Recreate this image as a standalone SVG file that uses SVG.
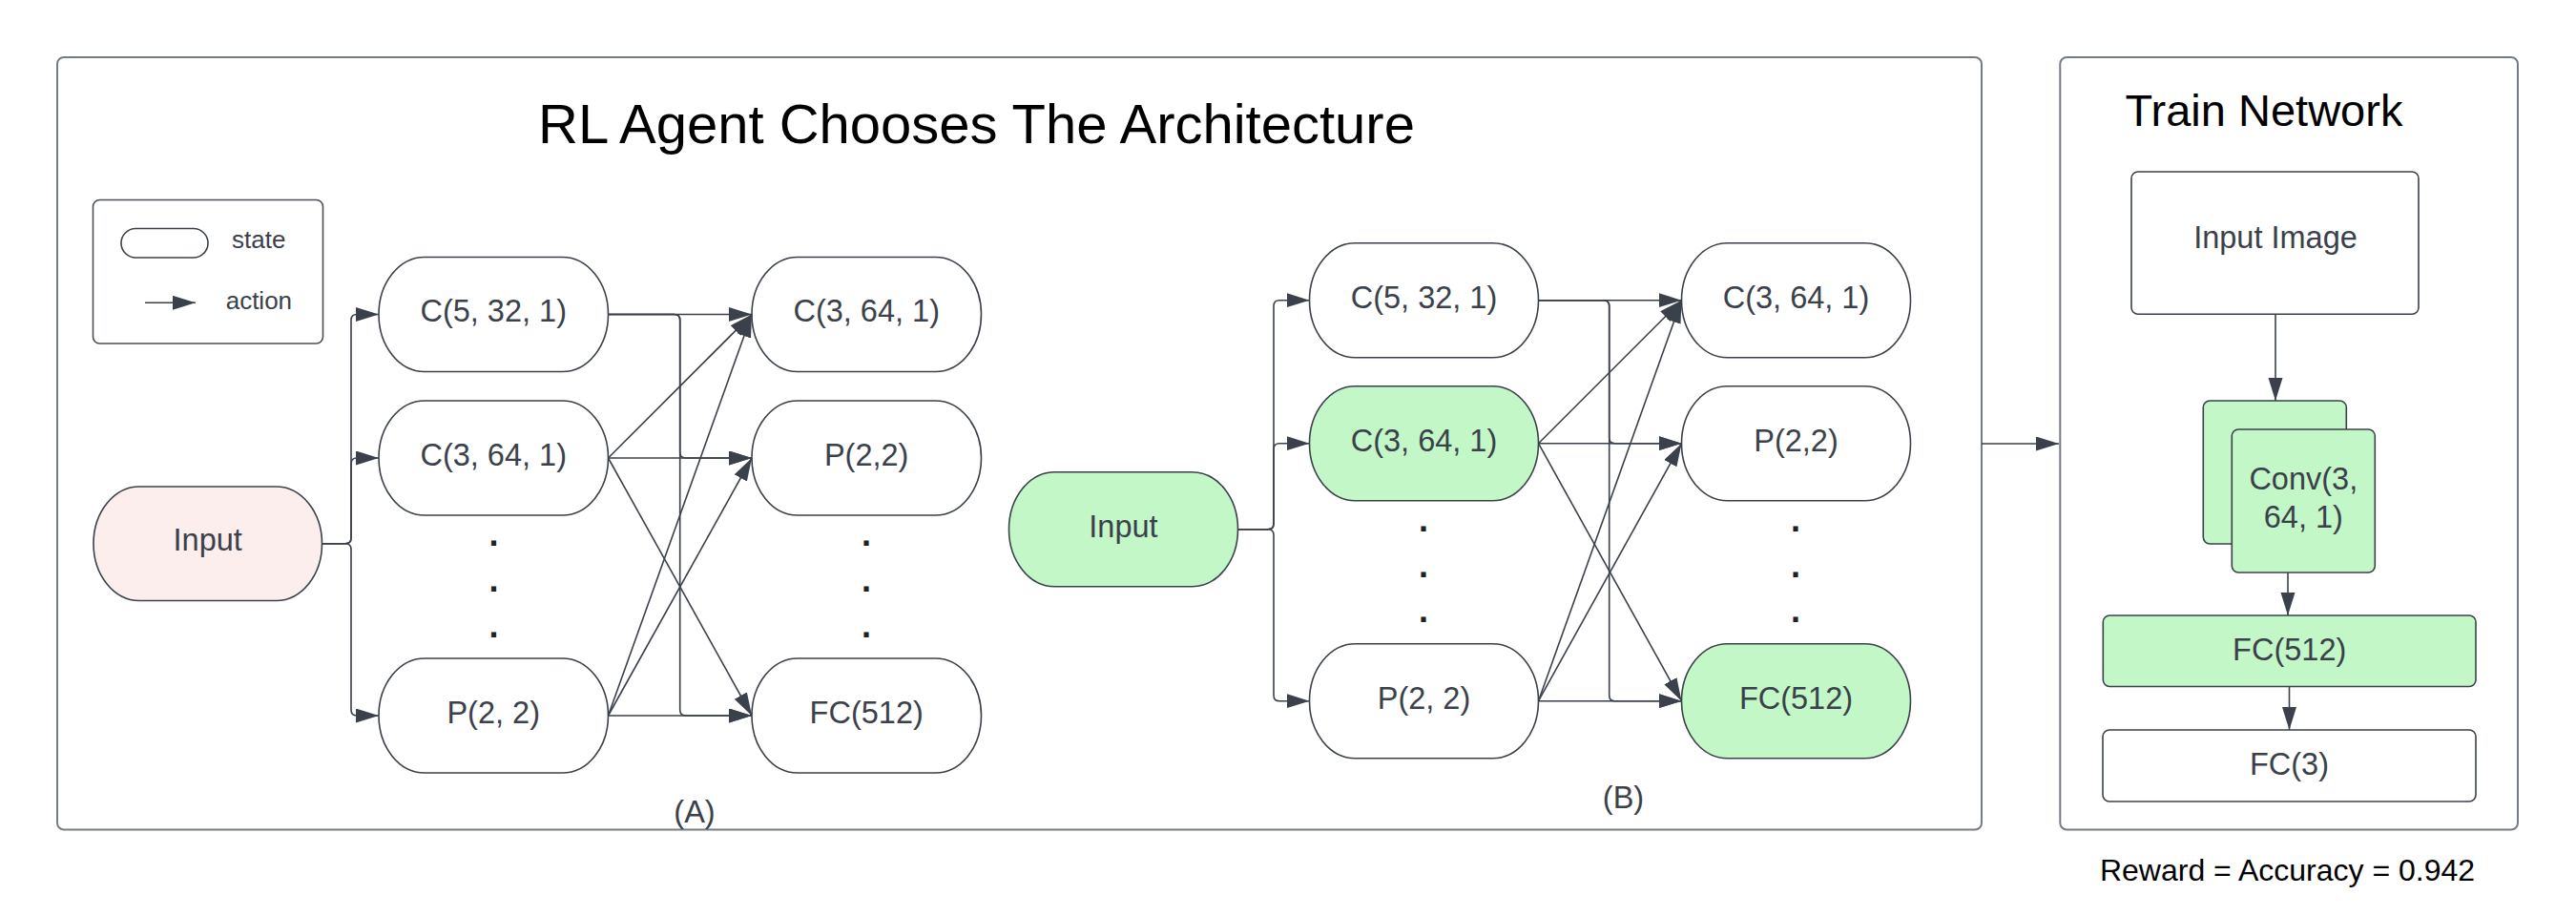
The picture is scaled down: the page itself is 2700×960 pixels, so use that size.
<svg xmlns="http://www.w3.org/2000/svg" width="2700" height="960" viewBox="0 0 2700 960">
<style>
.frame{fill:#fff;stroke:#767c84;stroke-width:2}
.st{fill:#fff;stroke:#3a414a;stroke-width:1.6}
.box{fill:#fff;stroke:#3a414a;stroke-width:1.6}
.green{fill:#c3f7c8}
.pink{fill:#fdeeee}
.lbl{font-family:"Liberation Sans",Arial,sans-serif;font-size:32.5px;fill:#3a414a;text-anchor:middle}
.leg{font-family:"Liberation Sans",Arial,sans-serif;font-size:26px;fill:#3a414a}
.dot{font-family:"Liberation Sans",Arial,sans-serif;font-size:36px;font-weight:bold;fill:#1e2226;text-anchor:middle}
.ttl{font-family:"Liberation Sans",Arial,sans-serif;fill:#000;text-anchor:middle}
.ln{fill:none;stroke:#3a414a;stroke-width:1.6}
.ar{marker-end:url(#ah)}
</style>
<defs>
<marker id="ah" markerUnits="userSpaceOnUse" markerWidth="25" markerHeight="16" refX="24" refY="7.5" orient="auto">
<path d="M0,0 L24,7.5 L0,15 Z" fill="#3a414a"/>
</marker>
</defs>
<rect width="2700" height="960" fill="#fff"/>

<g id="frame-a">
<rect class="frame" x="60" y="60" width="2017" height="809.5" rx="7"/>
<text class="ttl" x="1023.5" y="150" font-size="58">RL Agent Chooses The Architecture</text>
<text class="lbl" x="728" y="862">(A)</text>
<text class="lbl" x="1701.5" y="847">(B)</text>
</g>

<g id="legend">
<rect x="97.5" y="209.5" width="241" height="150.5" rx="7" fill="#fff" stroke="#4a5058" stroke-width="1.6"/>
<rect class="st" x="127" y="239.5" width="91" height="30.5" rx="15.25"/>
<text class="leg" x="243" y="260">state</text>
<line class="ln ar" x1="152" y1="317.3" x2="205" y2="317.3"/>
<text class="leg" x="236.7" y="324">action</text>
</g>

<g id="a-input"><rect class="st pink" x="98" y="510" width="239.5" height="119.5" rx="48" ry="59.75"/><text class="lbl" x="217.7" y="577">Input</text></g>
<g id="a-c1"><rect class="st" x="397" y="269.5" width="240.5" height="120" rx="48" ry="60"/><text class="lbl" x="517.2" y="337.3">C(5, 32, 1)</text></g>
<g id="a-c2"><rect class="st" x="397" y="420" width="240.5" height="120" rx="48" ry="60"/><text class="lbl" x="517.2" y="488">C(3, 64, 1)</text></g>
<g id="a-p1"><rect class="st" x="397" y="690" width="240.5" height="120" rx="48" ry="60"/><text class="lbl" x="517.2" y="758">P(2, 2)</text></g>
<g id="a-dots1"><text class="dot" x="517.5" y="572">.</text><text class="dot" x="517.5" y="620">.</text><text class="dot" x="517.5" y="668">.</text></g>
<g id="a-c3"><rect class="st" x="788" y="269.5" width="240.5" height="120" rx="48" ry="60"/><text class="lbl" x="908.2" y="337.3">C(3, 64, 1)</text></g>
<g id="a-p2"><rect class="st" x="788" y="420" width="240.5" height="120" rx="48" ry="60"/><text class="lbl" x="908.2" y="488">P(2,2)</text></g>
<g id="a-fc"><rect class="st" x="788" y="690" width="240.5" height="120" rx="48" ry="60"/><text class="lbl" x="908.2" y="758">FC(512)</text></g>
<g id="a-dots2"><text class="dot" x="908" y="572">.</text><text class="dot" x="908" y="620">.</text><text class="dot" x="908" y="668">.</text></g>

<g id="b-input"><rect class="st green" x="1057.5" y="494.7" width="240" height="120" rx="48" ry="60"/><text class="lbl" x="1177.5" y="562.5">Input</text></g>
<g id="b-c1"><rect class="st" x="1372.5" y="254.7" width="240" height="120" rx="48" ry="60"/><text class="lbl" x="1492.5" y="322.5">C(5, 32, 1)</text></g>
<g id="b-c2"><rect class="st green" x="1372.5" y="404.7" width="240" height="120" rx="48" ry="60"/><text class="lbl" x="1492.5" y="472.5">C(3, 64, 1)</text></g>
<g id="b-p1"><rect class="st" x="1372.5" y="674.7" width="240" height="120" rx="48" ry="60"/><text class="lbl" x="1492.5" y="742.5">P(2, 2)</text></g>
<g id="b-dots1"><text class="dot" x="1492" y="557">.</text><text class="dot" x="1492" y="604.6">.</text><text class="dot" x="1492" y="652">.</text></g>
<g id="b-c3"><rect class="st" x="1762.5" y="254.7" width="240" height="120" rx="48" ry="60"/><text class="lbl" x="1882.5" y="322.5">C(3, 64, 1)</text></g>
<g id="b-p2"><rect class="st" x="1762.5" y="404.7" width="240" height="120" rx="48" ry="60"/><text class="lbl" x="1882.5" y="472.5">P(2,2)</text></g>
<g id="b-fc"><rect class="st green" x="1762.5" y="674.7" width="240" height="120" rx="48" ry="60"/><text class="lbl" x="1882.5" y="742.5">FC(512)</text></g>
<g id="b-dots2"><text class="dot" x="1882" y="557">.</text><text class="dot" x="1882" y="604.6">.</text><text class="dot" x="1882" y="652">.</text></g>

<g id="frame-train">
<rect class="frame" x="2159.3" y="60" width="479.7" height="809.5" rx="7"/>
<text class="ttl" x="2373" y="131.7" font-size="47">Train Network</text>
</g>
<g id="t-input"><rect class="box" x="2234" y="180" width="301" height="149.3" rx="7"/><text class="lbl" x="2385" y="260">Input Image</text></g>
<g id="t-conv">
<rect class="box green" x="2309.3" y="420" width="150" height="150" rx="7"/>
<rect class="box green" x="2339.3" y="450" width="150" height="150" rx="7"/>
<text class="lbl" x="2414.3" y="513.3">Conv(3,</text>
<text class="lbl" x="2414.3" y="553.3">64, 1)</text>
</g>
<g id="t-fc512"><rect class="box green" x="2204.3" y="645" width="390.7" height="74.5" rx="7"/><text class="lbl" x="2399.7" y="692">FC(512)</text></g>
<g id="t-fc3"><rect class="box" x="2204" y="765" width="391" height="75" rx="7"/><text class="lbl" x="2399.5" y="811.7">FC(3)</text></g>
<g id="reward"><text class="ttl" x="2397.5" y="922.7" font-size="32">Reward = Accuracy = 0.942</text></g>

<g id="connectors">
<path class="ln ar" d="M337.5,569.75 H362 Q368,569.75 368,563.75 V335.5 Q368,329.5 374,329.5 H397"/>
<path class="ln ar" d="M337.5,569.75 H362 Q368,569.75 368,563.75 V486 Q368,480 374,480 H397"/>
<path class="ln ar" d="M337.5,569.75 H362 Q368,569.75 368,575.75 V744 Q368,750 374,750 H397"/>

<path class="ln ar" d="M637.5,329.5 H788"/>
<path class="ln ar" d="M637.5,329.5 H706.7 Q712.7,329.5 712.7,335.5 V474 Q712.7,480 718.7,480 H788"/>
<path class="ln ar" d="M637.5,329.5 H706.7 Q712.7,329.5 712.7,335.5 V744 Q712.7,750 718.7,750 H788"/>
<path class="ln ar" d="M637.5,480 L788,329.5"/>
<path class="ln ar" d="M637.5,480 H788"/>
<path class="ln ar" d="M637.5,480 L788,750"/>
<path class="ln ar" d="M637.5,750 L788,329.5"/>
<path class="ln ar" d="M637.5,750 L788,480"/>
<path class="ln ar" d="M637.5,750 H788"/>

<path class="ln ar" d="M1297.5,554.7 H1329 Q1335,554.7 1335,548.7 V320.7 Q1335,314.7 1341,314.7 H1372.5"/>
<path class="ln ar" d="M1297.5,554.7 H1329 Q1335,554.7 1335,548.7 V470.7 Q1335,464.7 1341,464.7 H1372.5"/>
<path class="ln ar" d="M1297.5,554.7 H1329 Q1335,554.7 1335,560.7 V728.7 Q1335,734.7 1341,734.7 H1372.5"/>

<path class="ln ar" d="M1612.5,314.7 H1762.5"/>
<path class="ln ar" d="M1612.5,314.7 H1680.7 Q1686.7,314.7 1686.7,320.7 V458.7 Q1686.7,464.7 1692.7,464.7 H1762.5"/>
<path class="ln ar" d="M1612.5,314.7 H1680.7 Q1686.7,314.7 1686.7,320.7 V728.7 Q1686.7,734.7 1692.7,734.7 H1762.5"/>
<path class="ln ar" d="M1612.5,464.7 L1762.5,314.7"/>
<path class="ln ar" d="M1612.5,464.7 H1762.5"/>
<path class="ln ar" d="M1612.5,464.7 L1762.5,734.7"/>
<path class="ln ar" d="M1612.5,734.7 L1762.5,314.7"/>
<path class="ln ar" d="M1612.5,734.7 L1762.5,464.7"/>
<path class="ln ar" d="M1612.5,734.7 H1762.5"/>

<path class="ln ar" d="M2077,465 H2158"/>
<path class="ln ar" d="M2385,329.3 V420"/>
<path class="ln ar" d="M2398,600 V645"/>
<path class="ln ar" d="M2399.5,719.5 V765"/>
</g>
</svg>
